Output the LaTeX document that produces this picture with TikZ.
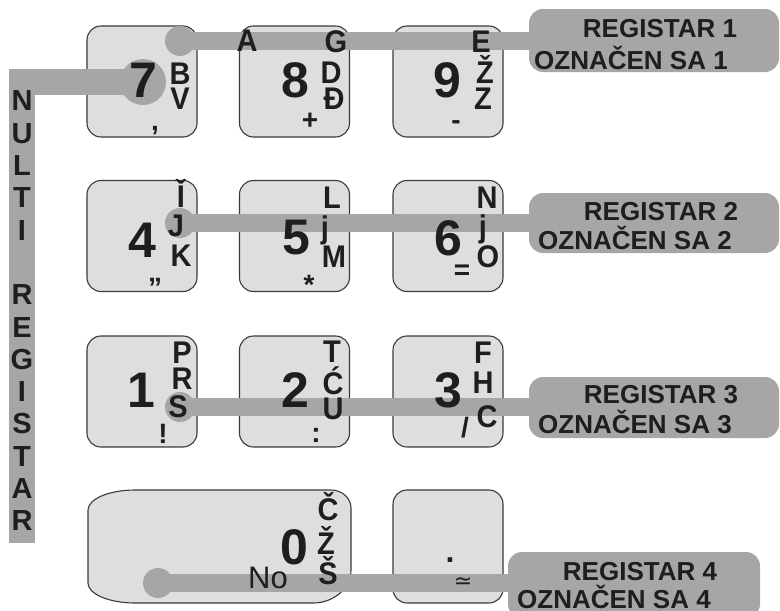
\documentclass[tikz,border=0pt]{standalone}
\usepackage{fontspec}
\setmainfont{Liberation Sans}
\newfontfamily\dejavu{DejaVu Sans}
\definecolor{bargray}{HTML}{A7A5A6}
\definecolor{keyfill}{HTML}{DEDEDE}
\definecolor{keyedge}{HTML}{3A3A3A}
\definecolor{ink}{HTML}{1E1E1E}
\tikzset{
  keybox/.style={draw=keyedge, fill=keyfill, line width=1.1pt, rounded corners=14pt, minimum width=110pt, minimum height=111pt, inner sep=0pt},
  bar/.style={draw=bargray, line width=18pt},
  dot/.style={circle, fill=bargray, minimum size=30pt, inner sep=0pt},
  reg/.style={fill=bargray, rounded corners=14pt, inner sep=0pt, minimum width=250pt},
  dig/.style={text=ink, font=\bfseries\fontsize{50}{50}\selectfont, inner sep=0pt},
  ltr/.style={text=ink, font=\bfseries\fontsize{29}{29}\selectfont, inner sep=0pt, yscale=1.08},
  sym/.style={text=ink, font=\bfseries\fontsize{28}{28}\selectfont, inner sep=0pt, anchor=base},
  regtxt/.style={text=ink, font=\bfseries\fontsize{26}{26}\selectfont, inner sep=0pt},
  vlet/.style={text=ink, font=\bfseries\fontsize{29}{29}\selectfont, inner sep=0pt}
}
\begin{document}
\begin{tikzpicture}[x=1pt, y=-1pt]
\useasboundingbox (0,0) rectangle (780,611);
\clip (0,0) rectangle (780,611);
% keys
\node[keybox] (k7) at (142,81.5) {};
\node[keybox] (k8) at (294.5,81.5) {};
\node[keybox] (k9) at (448,81.5) {};
\node[keybox] (k4) at (142,236) {};
\node[keybox] (k5) at (294.5,236) {};
\node[keybox] (k6) at (448,236) {};
\node[keybox] (k1) at (142,391.5) {};
\node[keybox] (k2) at (294.5,391.5) {};
\node[keybox] (k3) at (448,391.5) {};
\node[keybox, minimum height=113pt] (kdot) at (448,546.5) {};
\path[draw=keyedge, fill=keyfill, line width=1.1pt]
  (135,490) -- (331,490) .. controls (342,490) and (351,498) .. (351,508)
  -- (351,570) .. controls (351,588) and (334,603) .. (313,603)
  -- (135,603) .. controls (109,603) and (88,594) .. (88,583)
  -- (88,510) .. controls (88,499) and (109,490) .. (135,490) -- cycle;
\coordinate (k0) at (220,546);
% register boxes
\node[reg, minimum height=63pt] (r1) at (654,40.5) {};
\node[reg, minimum height=60pt] (r2) at (654,223) {};
\node[reg, minimum height=61pt] (r3) at (654,407.5) {};
\node[reg, minimum width=252pt, minimum height=66pt] (r4) at (634,585) {};
% connectors
\node[dot] (d1) at (180,41) {};
\node[dot] (d2) at (180,223) {};
\node[dot] (d3) at (180,407) {};
\node[dot] (d4) at (158,583) {};
\draw[bar] (d1.center) -- (d1.center -| r1.center);
\draw[bar] (d2.center) -- (d2.center -| r2.center);
\draw[bar] (d3.center) -- (d3.center -| r3.center);
\draw[bar] (d4.center) -- (d4.center -| r4.center);
% multi registar
\node[dot, minimum size=46pt] (m7) at (143,82) {};
\coordinate (mc) at (22,82);
\coordinate (mb) at (22,543);
\draw[bargray, line width=26pt, line join=miter] (m7.center) -- (mc) -- (mb);
\foreach \l [count=\i from 0] in {N,U,L,T,I,,R,E,G,I,S,T,A,R}{
  \node[vlet] (v\i) at (22,101+32.3*\i) {\l};
}
% register texts
\node[regtxt] (r1a) at (660,29) {REGISTAR 1};
\node[regtxt, anchor=west] (r1b) at (534,58) {OZNAČEN SA 1};
\node[regtxt] (r2a) at (661,212) {REGISTAR 2};
\node[regtxt, anchor=west] (r2b) at (538,238) {OZNAČEN SA 2};
\node[regtxt] (r3a) at (661,395) {REGISTAR 3};
\node[regtxt, anchor=west] (r3b) at (538,422) {OZNAČEN SA 3};
\node[regtxt] (r4a) at (640,572) {REGISTAR 4};
\node[regtxt, anchor=west] (r4b) at (517,597) {OZNAČEN SA 4};
% key 7
\node[dig] (n7) at (143,80) {7};
\node[ltr] (l7a) at (180,74) {B};
\node[ltr] (l7b) at (180,99) {V};
\node[sym] (s7) at (155,130) {,};
% key 8
\node[ltr] (l8x) at (247,41) {A};
\node[dig] (n8) at (295,80) {8};
\node[ltr] (l8a) at (336,42) {G};
\node[ltr] (l8b) at (331,73) {D};
\node[ltr] (l8c) at (334,99) {Đ};
\node[sym] (s8) at (310,129) {+};
% key 9
\node[dig] (n9) at (447,80) {9};
\node[ltr] (l9a) at (481,42) {E};
\node[ltr] (l9b) at (485,69) {Ž};
\node[ltr] (l9c) at (483,99) {Z};
\node[sym] (s9) at (456,129.5) {-};
% key 4
\node[dig] (n4) at (142,240) {4};
\node[ltr] (l4a) at (181,193) {Ǐ};
\node[ltr] (l4b) at (176,226) {J};
\node[ltr] (l4c) at (181,256) {K};
\node[sym] (s4) at (155,297.5) {\char"22};
% key 5
\node[dig] (n5) at (296,238) {5};
\node[ltr] (l5a) at (332,198) {L};
\node[ltr] (l5b) at (325,230) {j};
\node[ltr] (l5c) at (334,257) {M};
\node[sym] (s5) at (309,294) {*};
% key 6
\node[dig] (n6) at (448,238) {6};
\node[ltr] (l6a) at (487,198) {N};
\node[ltr] (l6b) at (483,229) {j};
\node[ltr] (l6c) at (488,257) {O};
\node[sym] (s6) at (462,279) {=};
% key 1
\node[dig] (n1) at (141,390) {1};
\node[ltr] (l1a) at (182,353) {P};
\node[ltr] (l1b) at (182,379) {R};
\node[ltr] (l1c) at (178,407) {S};
\node[sym] (s1) at (163,443) {!};
% key 2
\node[dig] (n2) at (295,390) {2};
\node[ltr] (l2a) at (332,352) {T};
\node[ltr] (l2b) at (333,381) {Ć};
\node[ltr] (l2c) at (333,409) {U};
\node[sym] (s2) at (316,442) {:};
% key 3
\node[dig] (n3) at (448,390) {3};
\node[ltr] (l3a) at (483,353) {F};
\node[ltr] (l3b) at (483,383) {H};
\node[ltr] (l3c) at (487,417) {C};
\node[sym] (s3) at (465,437) {/};
% key 0
\node[text=ink, font=\fontsize{31}{31}\selectfont, inner sep=0pt, anchor=base] (no) at (268,588) {No};
\node[dig] (n0) at (294,547) {0};
\node[ltr] (l0a) at (328,507) {Č};
\node[ltr] (l0b) at (326,540) {Ž};
\node[ltr] (l0c) at (328,571) {Š};
% key dot
\node[sym, font=\bfseries\fontsize{32}{32}\selectfont] (sd) at (450,562) {.};
\node[text=ink, font=\dejavu\fontsize{22}{22}\selectfont, inner sep=0pt, anchor=base] (sa) at (463,588) {≃};
\end{tikzpicture}
\end{document}
